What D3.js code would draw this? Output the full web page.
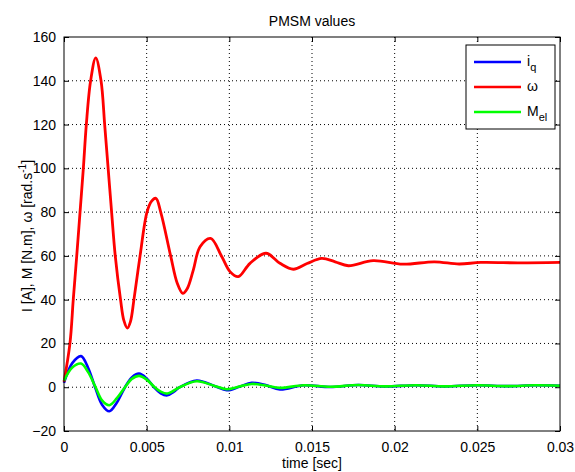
<!DOCTYPE html>
<html>
<head>
<meta charset="utf-8">
<script src="https://cdn.jsdelivr.net/npm/d3@7"></script>
<style>
  body { margin: 0; background: #fff; }
  svg { display: block; font-family: "Liberation Sans", Arial, sans-serif; }
</style>
</head>
<body>
<svg id="chart" width="575" height="472"></svg>
<script>
// time samples are in milliseconds, converted to seconds when drawn
const omegaT = [0, 0.36, 0.56, 0.77, 0.97, 1.17, 1.35, 1.61, 1.92, 2.24, 2.46, 2.67, 2.88, 3.1, 3.42, 3.62, 3.83, 4.02, 4.23, 4.6, 5.02, 5.3, 5.56, 5.85, 6.45, 6.85, 7.18, 7.45, 7.82, 8.23, 8.87, 9.54, 10.04, 10.54, 11.25, 12.22, 13.06, 13.87, 14.7, 15.59, 16.4, 17.2, 18.7, 20.5, 22.4, 23.9, 25.2, 27.6, 30];
const omegaV = [2.5, 20, 40, 60, 80, 100, 120, 140, 150.5, 140, 120, 100, 80, 60, 40, 30.5, 27, 30, 40, 60, 80, 85, 86.3, 80, 60, 47.5, 42.9, 45, 53.5, 64.2, 68, 59.7, 52.8, 50.5, 56.6, 61.2, 56.6, 53.9, 56.5, 58.9, 57.3, 55.5, 57.8, 56.2, 57.3, 56.3, 57, 56.8, 57];

const iqT = [0, 0.5, 1.03, 1.45, 1.88, 2.3, 2.74, 3.2, 3.69, 4.1, 4.54, 5.0, 5.44, 5.85, 6.25, 6.65, 7.0, 8.03, 9.1, 9.84, 10.6, 11.35, 12.2, 13.06, 14.5, 16.1, 17.8, 19.4, 21.3, 23.0, 25.0, 26.8, 28.5, 30];
const iqV = [2, 11, 14.2, 9, 0, -8, -11, -7, 0, 4.5, 6.2, 4, 0, -2.8, -3.7, -2, 0, 3.1, 0.6, -1.4, 0.2, 2.0, 1.0, -1, 0.9, 0.1, 1.0, 0.3, 0.9, 0.4, 0.9, 0.5, 0.9, 0.7];

const melT = [0, 0.5, 1.03, 1.45, 1.88, 2.3, 2.74, 3.2, 3.69, 4.1, 4.54, 5.0, 5.44, 5.85, 6.25, 6.65, 7.0, 8.03, 9.1, 9.84, 10.6, 11.35, 12.2, 13.06, 14.5, 16.1, 17.8, 19.4, 21.3, 23.0, 25.0, 26.8, 28.5, 30];
const melV = [3, 9, 10.8, 7, 0.5, -6, -8.2, -5, 0, 3.8, 5.2, 3.5, 0.3, -2, -2.9, -1.5, 0, 2.7, 0.6, -0.9, 0.3, 1.5, 0.8, -0.3, 0.9, 0.2, 1.0, 0.4, 0.9, 0.4, 0.9, 0.5, 0.9, 0.7];

const xTicks = [0, 0.005, 0.01, 0.015, 0.02, 0.025, 0.03];
const xTickLabels = ["0", "0.005", "0.01", "0.015", "0.02", "0.025", "0.03"];
const yTicks = [-20, 0, 20, 40, 60, 80, 100, 120, 140, 160];

const series = [
    { name: "iq", t: iqT, v: iqV, color: "#0000ff", width: 2.6 },
    { name: "omega", t: omegaT, v: omegaV, color: "#ff0000", width: 2.8 },
    { name: "mel", t: melT, v: melV, color: "#00ff00", width: 2.6 }
];

const svg = d3.select("#chart");
const margin = {top: 37, right: 15, bottom: 41, left: 64};
const W = 575 - margin.left - margin.right,
    H = 472 - margin.top - margin.bottom;

const x = d3.scaleLinear().domain([0, 0.03]).range([0, W]);
const y = d3.scaleLinear().domain([-20, 160]).range([H, 0]);

const g = svg.append("g")
    .attr("transform", `translate(${margin.left},${margin.top})`);

// dotted grid
g.append("g").selectAll("line")
    .data(xTicks.slice(1, -1))
    .join("line")
    .attr("x1", d => x(d)).attr("x2", d => x(d))
    .attr("y1", 0).attr("y2", H)
    .attr("stroke", "#000").attr("stroke-dasharray", "1,3");
g.append("g").selectAll("line")
    .data(yTicks.slice(1, -1))
    .join("line")
    .attr("y1", d => y(d)).attr("y2", d => y(d))
    .attr("x1", 0).attr("x2", W)
    .attr("stroke", "#000").attr("stroke-dasharray", "1,3");

// curves
const line = d3.line()
    .x(d => x(d[0] / 1000))
    .y(d => y(d[1]))
    .curve(d3.curveCatmullRom.alpha(0.5));

series.forEach(s => {
    g.append("path")
        .datum(s.t.map((t, i) => [t, s.v[i]]))
        .attr("fill", "none")
        .attr("stroke", s.color)
        .attr("stroke-width", s.width)
        .attr("stroke-linejoin", "round")
        .attr("d", line);
});

// axes, ticks pointing inward on all four sides
const fmtX = d => xTickLabels[xTicks.indexOf(d)];
const styleAxis = sel => {
    sel.select(".domain").remove();
    sel.selectAll(".tick line").attr("stroke", "#000");
    sel.selectAll("text").attr("fill", "#000").style("font-size", "14px");
};
g.append("g")
    .attr("transform", `translate(0,${H})`)
    .call(d3.axisBottom(x).tickValues(xTicks).tickFormat(fmtX).tickSizeInner(-5).tickPadding(11))
    .call(styleAxis);
g.append("g")
    .call(d3.axisTop(x).tickValues(xTicks).tickFormat("").tickSizeInner(-5))
    .call(styleAxis);
g.append("g")
    .call(d3.axisLeft(y).tickValues(yTicks).tickSizeInner(-5).tickPadding(8))
    .call(styleAxis);
g.append("g")
    .attr("transform", `translate(${W},0)`)
    .call(d3.axisRight(y).tickValues(yTicks).tickFormat("").tickSizeInner(-5))
    .call(styleAxis);

g.append("rect")
    .attr("width", W).attr("height", H)
    .attr("fill", "none").attr("stroke", "#000");

// title and labels
svg.append("text")
    .attr("x", margin.left + W / 2).attr("y", 26)
    .attr("text-anchor", "middle")
    .style("font-size", "14px")
    .text("PMSM values");

svg.append("text")
    .attr("x", margin.left + W / 2).attr("y", 468)
    .attr("text-anchor", "middle")
    .style("font-size", "14px")
    .text("time [sec]");

const yl = svg.append("text")
    .attr("transform", `translate(32,${margin.top + H / 2 + 2}) rotate(-90)`)
    .attr("text-anchor", "middle")
    .style("font-size", "14px");
yl.append("tspan").text("I [A], M [N.m], \u03c9 [rad.s");
yl.append("tspan").attr("dy", -6).style("font-size", "10px").text("-1");
yl.append("tspan").attr("dy", 6).text("]");

// legend
const legend = svg.append("g").attr("transform", "translate(466,45)");
legend.append("rect")
    .attr("width", 89).attr("height", 84)
    .attr("fill", "#fff").attr("stroke", "#000");

const legendItems = [
    { color: "#0000ff", main: "i", sub: "q" },
    { color: "#ff0000", main: "\u03c9", sub: "" },
    { color: "#00ff00", main: "M", sub: "el" }
];
legendItems.forEach((d, i) => {
    const cy = 17 + i * 25;
    legend.append("line")
        .attr("x1", 8).attr("x2", 55)
        .attr("y1", cy).attr("y2", cy)
        .attr("stroke", d.color).attr("stroke-width", 2.6);
    const t = legend.append("text")
        .attr("x", 61).attr("y", cy + 4)
        .style("font-size", "14px");
    t.append("tspan").text(d.main);
    if (d.sub) t.append("tspan").attr("dy", 5).style("font-size", "11px").text(d.sub);
});
</script>
</body>
</html>
